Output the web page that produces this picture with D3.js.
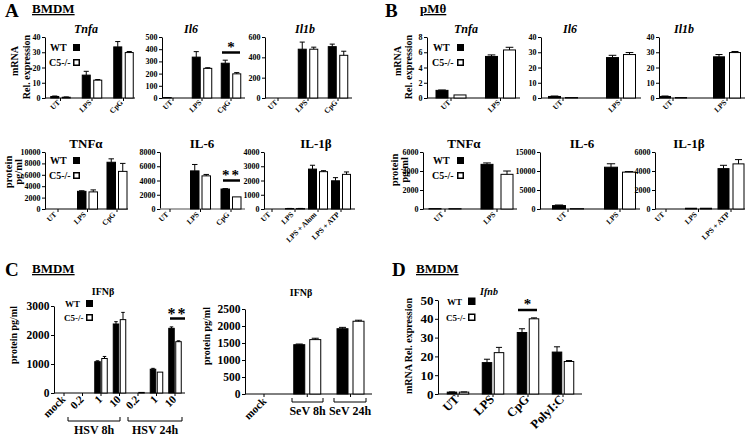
<!DOCTYPE html>
<html><head><meta charset="utf-8">
<script src="https://cdn.jsdelivr.net/npm/d3@7"></script>
<style>
body{margin:0;background:#fff}
svg{display:block;background:#fff}
text{font-family:"Liberation Serif","Times New Roman",serif;font-weight:bold;fill:#000}
</style>
</head><body>
<svg id="c" width="745" height="439"></svg>
<script>
// ---------- DATA ----------
// Panel A (BMDM) mRNA
const aMrnaCats = ["UT", "LPS", "CpG"];
const aTnfaWT = [1.0, 15.0, 33.5], aTnfaWTErr = [0.3, 2.5, 3.5];
const aTnfaKO = [0.5, 11.7, 29.8], aTnfaKOErr = [0.2, 0.4, 0.7];
const aTnfaTicks = [0, 10, 20, 30, 40];
const aIl6WT = [3, 335, 285], aIl6WTErr = [1, 45, 25];
const aIl6KO = [0, 243, 198], aIl6KOErr = [0, 5, 10];
const aIl6Ticks = [0, 100, 200, 300, 400, 500];
const aIl1bWT = [0, 480, 505], aIl1bWTErr = [0, 70, 25];
const aIl1bKO = [0, 480, 420], aIl1bKOErr = [0, 20, 40];
const aIl1bTicks = [0, 200, 400, 600];
// Panel A (BMDM) protein
const aProtCats = ["UT", "LPS", "CpG"];
const aTnfWT = [0, 3100, 8200], aTnfWTErr = [0, 100, 600];
const aTnfKO = [0, 3000, 6600], aTnfKOErr = [0, 350, 1400];
const aTnfTicks = [0, 2000, 4000, 6000, 8000, 10000];
const aIL6WT = [0, 5350, 2800], aIL6WTErr = [0, 900, 60];
const aIL6KO = [0, 4650, 1700], aIL6KOErr = [0, 200, 0];
const aIL6Ticks = [0, 2000, 4000, 6000, 8000];
const aIL1bCats = ["UT", "LPS", "LPS + Alum", "LPS + ATP"];
const aIL1bWT = [0, 30, 2800, 1980], aIL1bWTErr = [0, 10, 270, 220];
const aIL1bKO = [0, 30, 2620, 2430], aIL1bKOErr = [0, 10, 70, 170];
const aIL1bTicks = [0, 1000, 2000, 3000, 4000];
// Panel B (pMθ) mRNA
const bMrnaCats = ["UT", "LPS"];
const bTnfaWT = [1.0, 5.45], bTnfaWTErr = [0.05, 0.2];
const bTnfaKO = [0.4, 6.3], bTnfaKOErr = [0, 0.35];
const bTnfaTicks = [0, 2, 4, 6, 8];
const bIl6WT = [1.0, 26.5], bIl6WTErr = [0.3, 1.5];
const bIl6KO = [0.3, 28.5], bIl6KOErr = [0, 1.3];
const bIl6Ticks = [0, 10, 20, 30, 40];
const bIl1bWT = [1.0, 27.0], bIl1bWTErr = [0.3, 1.5];
const bIl1bKO = [0.3, 29.8], bIl1bKOErr = [0, 0.7];
const bIl1bTicks = [0, 10, 20, 30, 40];
// Panel B (pMθ) protein
const bProtCats = ["UT", "LPS"];
const bTnfWT = [40, 4700], bTnfWTErr = [0, 150];
const bTnfKO = [40, 3650], bTnfKOErr = [0, 350];
const bTnfTicks = [0, 2000, 4000, 6000];
const bIL6WT = [900, 11000], bIL6WTErr = [150, 900];
const bIL6KO = [100, 9700], bIL6KOErr = [0, 150];
const bIL6Ticks = [0, 5000, 10000, 15000];
const bIL1bCats = ["UT", "LPS", "LPS + ATP"];
const bIL1bWT = [0, 80, 4250], bIL1bWTErr = [0, 0, 350];
const bIL1bKO = [0, 80, 4750], bIL1bKOErr = [0, 0, 450];
const bIL1bTicks = [0, 2000, 4000, 6000];
// Panel C (BMDM) IFNβ – HSV
const cHsvCats = ["mock", "8h-0.2", "8h-1", "8h-10", "24h-0.2", "24h-1", "24h-10"];
const cHsvLabels = ["mock", "0.2", "1", "10", "0.2", "1", "10"];
const cHsvWT = [0, 0, 1080, 2380, 0, 820, 2230], cHsvWTErr = [0, 0, 30, 80, 0, 30, 50];
const cHsvKO = [0, 0, 1190, 2530, 20, 720, 1770], cHsvKOErr = [0, 0, 70, 250, 0, 0, 30];
const cHsvTicks = [0, 1000, 2000, 3000];
// Panel C (BMDM) IFNβ – SeV
const cSevCats = ["mock", "SeV 8h", "SeV 24h"];
const cSevWT = [0, 1450, 1920], cSevWTErr = [0, 20, 40];
const cSevKO = [0, 1600, 2140], cSevKOErr = [0, 40, 30];
const cSevTicks = [0, 500, 1000, 1500, 2000, 2500];
// Panel D (BMDM) Ifnb mRNA
const dCats = ["UT", "LPS", "CpG", "PolyI:C"];
const dWT = [1.0, 16.7, 32.7, 22.3], dWTErr = [0.1, 1.8, 2.0, 2.8];
const dKO = [1.0, 22.0, 40.0, 17.3], dKOErr = [0.1, 2.8, 0.5, 0.5];
const dTicks = [0, 10, 20, 30, 40, 50];

// ---------- DRAWING ----------
const svg = d3.select("#c");

function txt(x, y, s, fs, opts = {}) {
  const t = svg.append("text").attr("x", x).attr("y", y).attr("font-size", fs).text(s);
  if (opts.anchor) t.attr("text-anchor", opts.anchor);
  if (opts.italic) t.attr("font-style", "italic");
  if (opts.rot) t.attr("transform", `rotate(${opts.rot},${x},${y})`);
  if (opts.underline) t.attr("text-decoration", "underline");
  if (opts.ls) t.attr("letter-spacing", opts.ls);
  return t;
}

function panel(o) {
  const g = svg.append("g");
  const x = d3.scalePoint().domain(o.cats).range([o.c0, o.c1]);
  const y = d3.scaleLinear().domain([0, o.ticks[o.ticks.length - 1]]).range([o.yBot, o.yTop]);
  const ax = g.append("g").attr("transform", `translate(${o.x0},0)`)
    .call(d3.axisLeft(y).tickValues(o.ticks).tickSize(3).tickSizeOuter(0).tickPadding(1.5).tickFormat(d3.format("d")));
  ax.select(".domain").attr("stroke", "#000").attr("stroke-width", 1);
  ax.selectAll(".tick line").attr("stroke", "#000");
  ax.selectAll("text").attr("font-size", o.tfs).attr("font-family", null).attr("fill", "#000");
  // x axis
  g.append("line").attr("x1", o.x0).attr("x2", o.x1).attr("y1", o.yBot).attr("y2", o.yBot)
    .attr("stroke", o.xColor || "#000").attr("stroke-width", o.xColor ? 1.5 : 1);
  g.selectAll(null).data(o.cats).join("line")
    .attr("x1", d => x(d)).attr("x2", d => x(d)).attr("y1", o.yBot).attr("y2", o.yBot + 3).attr("stroke", "#000");
  const half = o.gap / 2;
  const series = [
    { v: o.wt, e: o.wtE, f: "#000", dx: -half - o.bw },
    { v: o.ko, e: o.koE, f: "#fff", dx: half }
  ];
  series.forEach(s => {
    g.selectAll(null).data(o.cats).join("rect")
      .attr("x", d => x(d) + s.dx).attr("width", o.bw)
      .attr("y", (d, i) => y(s.v[i])).attr("height", (d, i) => o.yBot - y(s.v[i]))
      .attr("fill", s.f).attr("stroke", "#000").attr("stroke-width", 1);
    const cw = o.bw * 0.32;
    const eb = g.selectAll(null).data(o.cats.filter((d, i) => s.e[i] > 0)).join("g");
    eb.append("line")
      .attr("x1", d => x(d) + s.dx + o.bw / 2).attr("x2", d => x(d) + s.dx + o.bw / 2)
      .attr("y1", d => y(s.v[o.cats.indexOf(d)]))
      .attr("y2", d => { const i = o.cats.indexOf(d); return y(s.v[i] + s.e[i]); })
      .attr("stroke", "#000").attr("stroke-width", 1);
    eb.append("line")
      .attr("x1", d => x(d) + s.dx + o.bw / 2 - cw).attr("x2", d => x(d) + s.dx + o.bw / 2 + cw)
      .attr("y1", d => { const i = o.cats.indexOf(d); return y(s.v[i] + s.e[i]); })
      .attr("y2", d => { const i = o.cats.indexOf(d); return y(s.v[i] + s.e[i]); })
      .attr("stroke", "#000").attr("stroke-width", 1);
  });
  if (o.labels) {
    g.selectAll(null).data(o.cats).join("text")
      .attr("transform", d => `translate(${x(d) + o.lx},${o.yBot + o.ly}) rotate(-45)`)
      .attr("text-anchor", "end").attr("font-size", o.lfs)
      .text((d, i) => o.labels[i]);
  }
  if (o.title) txt(o.tx, o.ty, o.title, o.tsz, { anchor: "middle", italic: o.italic });
  return { x, y };
}

function legend(xt, xs, y1, y2, fs, sq) {
  txt(xt, y1, "WT", fs);
  txt(xt - 1, y2, "C5-/-", fs);
  svg.append("rect").attr("x", xs).attr("y", y1 - sq).attr("width", sq).attr("height", sq).attr("fill", "#000");
  svg.append("rect").attr("x", xs + 0.75).attr("y", y2 - sq + 0.75).attr("width", sq - 1.5).attr("height", sq - 1.5)
    .attr("fill", "#fff").attr("stroke", "#000").attr("stroke-width", 1.5);
}

function sig(x1, x2, y, stars, fs, sy) {
  svg.append("line").attr("x1", x1).attr("x2", x2).attr("y1", y).attr("y2", y).attr("stroke", "#000").attr("stroke-width", 2.5);
  txt((x1 + x2) / 2, sy, stars, fs, { anchor: "middle", ls: stars.length > 1 ? 2 : 0 });
}

function bracket(x1, x2, y, label, fs, ly) {
  svg.append("path").attr("d", `M${x1},${y - 4}V${y}H${x2}V${y - 4}`).attr("fill", "none").attr("stroke", "#000").attr("stroke-width", 1);
  txt((x1 + x2) / 2, ly, label, fs, { anchor: "middle" });
}

// ===== Panel A =====
txt(5, 17, "A", 19);
txt(32, 13, "BMDM", 13, { underline: true });
txt(18, 61, "mRNA", 10, { anchor: "middle", rot: -90 });
txt(30, 67, "Rel. expression", 10, { anchor: "middle", rot: -90 });
const topA = { yTop: 37, yBot: 98, tfs: 8, lfs: 7.5, lx: 0, ly: 5, tsz: 12, italic: true, ty: 33, bw: 8, gap: 3.5 };
panel({ ...topA, cats: aMrnaCats, labels: aMrnaCats, wt: aTnfaWT, wtE: aTnfaWTErr, ko: aTnfaKO, koE: aTnfaKOErr, ticks: aTnfaTicks,
  x0: 45, x1: 135, c0: 60.5, c1: 123.5, title: "Tnfa", tx: 86 });
panel({ ...topA, cats: aMrnaCats, labels: aMrnaCats, wt: aIl6WT, wtE: aIl6WTErr, ko: aIl6KO, koE: aIl6KOErr, ticks: aIl6Ticks,
  x0: 162, x1: 245, c0: 173, c1: 231, title: "Il6", tx: 191 });
panel({ ...topA, cats: aMrnaCats, labels: aMrnaCats, wt: aIl1bWT, wtE: aIl1bWTErr, ko: aIl1bKO, koE: aIl1bKOErr, ticks: aIl1bTicks,
  x0: 265, x1: 352, c0: 278, c1: 338, title: "Il1b", tx: 305 });
legend(50, 73, 51, 66, 10, 7);
sig(222, 240, 52.5, "*", 15, 52);

txt(12, 172, "protein", 10.5, { anchor: "middle", rot: -90 });
txt(22, 172, "pg/ml", 10.5, { anchor: "middle", rot: -90 });
const botA = { yTop: 152, yBot: 209, tfs: 8, lfs: 7.5, lx: -1, ly: 6, tsz: 13, italic: false, ty: 148, bw: 8.5, gap: 3 };
panel({ ...botA, cats: aProtCats, labels: aProtCats, wt: aTnfWT, wtE: aTnfWTErr, ko: aTnfKO, koE: aTnfKOErr, ticks: aTnfTicks,
  x0: 45, x1: 128, c0: 58, c1: 117, title: "TNFα", tx: 86 });
panel({ ...botA, cats: aProtCats, labels: aProtCats, wt: aIL6WT, wtE: aIL6WTErr, ko: aIL6KO, koE: aIL6KOErr, ticks: aIL6Ticks,
  x0: 160, x1: 245, c0: 170, c1: 231, title: "IL-6", tx: 202, xColor: "#888" });
panel({ ...botA, bw: 8, cats: aIL1bCats, labels: aIL1bCats, wt: aIL1bWT, wtE: aIL1bWTErr, ko: aIL1bKO, koE: aIL1bKOErr, ticks: aIL1bTicks,
  x0: 264, x1: 355, c0: 272, c1: 341, title: "IL-1β", tx: 316 });
legend(50, 73, 164, 179, 10, 7);
sig(223, 240, 180.5, "**", 15, 180);

// ===== Panel B =====
txt(385, 17, "B", 19);
txt(420, 13, "pMθ", 13, { underline: true });
txt(401, 61, "mRNA", 10, { anchor: "middle", rot: -90 });
txt(412, 67, "Rel. expression", 10, { anchor: "middle", rot: -90 });
const topB = { ...topA, bw: 12, gap: 6 };
panel({ ...topB, cats: bMrnaCats, labels: bMrnaCats, wt: bTnfaWT, wtE: bTnfaWTErr, ko: bTnfaKO, koE: bTnfaKOErr, ticks: bTnfaTicks,
  x0: 427, x1: 520, c0: 451, c1: 500.5, title: "Tnfa", tx: 466 });
panel({ ...topB, bw: 12, gap: 5, cats: bMrnaCats, labels: bMrnaCats, wt: bIl6WT, wtE: bIl6WTErr, ko: bIl6KO, koE: bIl6KOErr, ticks: bIl6Ticks,
  x0: 541, x1: 641, c0: 563, c1: 621, title: "Il6", tx: 570 });
panel({ ...topB, bw: 11, gap: 5, cats: bMrnaCats, labels: bMrnaCats, wt: bIl1bWT, wtE: bIl1bWTErr, ko: bIl1bKO, koE: bIl1bKOErr, ticks: bIl1bTicks,
  x0: 659, x1: 745, c0: 673, c1: 727, title: "Il1b", tx: 684 });
legend(433, 457, 51, 66, 10, 7);

txt(398, 170, "protein", 10.5, { anchor: "middle", rot: -90 });
txt(408, 170, "pg/ml", 10.5, { anchor: "middle", rot: -90 });
const botB = { ...botA, bw: 12, gap: 8 };
panel({ ...botB, cats: bProtCats, labels: bProtCats, wt: bTnfWT, wtE: bTnfWTErr, ko: bTnfKO, koE: bTnfKOErr, ticks: bTnfTicks,
  x0: 423, x1: 517, c0: 445, c1: 497, title: "TNFα", tx: 464 });
panel({ ...botB, bw: 13, gap: 5, cats: bProtCats, labels: bProtCats, wt: bIL6WT, wtE: bIL6WTErr, ko: bIL6KO, koE: bIL6KOErr, ticks: bIL6Ticks,
  x0: 540, x1: 640, c0: 568, c1: 620, title: "IL-6", tx: 582 });
panel({ ...botB, bw: 11, gap: 4, cats: bIL1bCats, labels: bIL1bCats, wt: bIL1bWT, wtE: bIL1bWTErr, ko: bIL1bKO, koE: bIL1bKOErr, ticks: bIL1bTicks,
  x0: 655, x1: 745, c0: 666, c1: 731, title: "IL-1β", tx: 689 });
legend(433, 457, 164, 179, 10, 7);

// ===== Panel C =====
txt(5, 276, "C", 19);
txt(32, 273, "BMDM", 13, { underline: true });
txt(17, 335, "protein pg/ml", 10, { anchor: "middle", rot: -90 });
panel({ cats: cHsvCats, labels: cHsvLabels, wt: cHsvWT, wtE: cHsvWTErr, ko: cHsvKO, koE: cHsvKOErr, ticks: cHsvTicks,
  yTop: 306, yBot: 393, x0: 54, x1: 185, c0: 64, c1: 175, bw: 5.5, gap: 1.5, tfs: 11.5, lfs: 11, lx: 2, ly: 7,
  title: "IFNβ", tx: 103, ty: 295, tsz: 10 });
legend(65, 86, 307, 321, 9, 7);
sig(170, 185, 318.5, "**", 16, 319);
bracket(68, 120, 421, "HSV 8h", 12, 434);
bracket(128, 182, 421, "HSV 24h", 12, 434);

txt(210, 336, "protein pg/ml", 10, { anchor: "middle", rot: -90 });
panel({ cats: cSevCats, labels: ["mock", "", ""], wt: cSevWT, wtE: cSevWTErr, ko: cSevKO, koE: cSevKOErr, ticks: cSevTicks,
  yTop: 309, yBot: 394, x0: 245, x1: 372, c0: 264, c1: 350.5, bw: 11, gap: 5, tfs: 11.5, lfs: 11, lx: 3, ly: 8,
  title: "IFNβ", tx: 301, ty: 296, tsz: 10 });
bracket(292, 323, 402, "SeV  8h", 12, 415);
bracket(334, 366, 402, "SeV  24h", 12, 415);

// ===== Panel D =====
txt(392, 276, "D", 19);
txt(416, 273, "BMDM", 13, { underline: true });
txt(412, 346, "mRNA  Rel. expression", 10, { anchor: "middle", rot: -90 });
panel({ cats: dCats, labels: dCats, wt: dWT, wtE: dWTErr, ko: dKO, koE: dKOErr, ticks: dTicks,
  yTop: 300, yBot: 394, x0: 438, x1: 582, c0: 458, c1: 563, bw: 9.5, gap: 2.5, tfs: 13, lfs: 12.5, lx: 2, ly: 6,
  title: "Ifnb", tx: 489, ty: 295, tsz: 10, italic: true });
legend(447, 468, 305, 321, 9, 7.5);
sig(518, 537, 310, "*", 15, 309);
</script>
</body></html>
